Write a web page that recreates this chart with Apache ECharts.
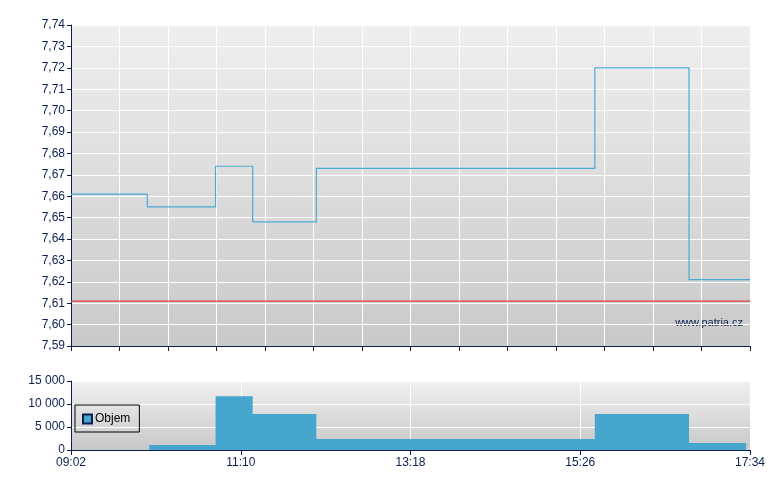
<!DOCTYPE html>
<html>
<head>
<meta charset="utf-8">
<script src="https://cdn.jsdelivr.net/npm/echarts@6/dist/echarts.min.js"></script>
<style>html,body{margin:0;padding:0;background:#fff}#c{width:780px;height:490px}</style>
</head>
<body>
<div id="c"></div>
<script>
// minutes after 09:02
var priceTimes = [0, 57.5, 109, 137, 185, 395, 466, 512];
var priceValues = [7.661, 7.655, 7.674, 7.648, 7.673, 7.72, 7.621, 7.621];
var refPrice = 7.611;
var volTimes = [0, 59, 109, 137, 185, 395, 466, 509, 512];
var volValues = [0, 1100, 11700, 7800, 2400, 7800, 1500, 0, 0];
var startMinute = 9 * 60 + 2;
var priceTicks = [7.59, 7.74, 0.01];
var volTicks = [0, 15000, 5000];

var navy = '#0b1f4f';
var font = 'Liberation Sans, Arial, sans-serif';
function bg(top, bottom) {
  return {type: 'linear', x: 0, y: 0, x2: 0, y2: 1, colorStops: [{offset: 0, color: top}, {offset: 1, color: bottom}]};
}
function fmtTime(v) {
  var m = Math.round(startMinute + v);
  var h = Math.floor(m / 60), mm = m % 60;
  return (h < 10 ? '0' : '') + h + ':' + (mm < 10 ? '0' : '') + mm;
}
function zipData(xs, ys) { return xs.map(function (x, i) { return [x, ys[i]]; }); }

var chart = echarts.init(document.getElementById('c'), null, {renderer: 'canvas'});
chart.setOption({
  animation: false,
  grid: [
    {left: 71, right: 30, top: 25, height: 321, show: true, borderWidth: 0, backgroundColor: bg('#efefef', '#c9c9c9')},
    {left: 71, right: 30, top: 381, height: 69, show: true, borderWidth: 0, backgroundColor: bg('#f0f0f0', '#c8c8c8')}
  ],
  legend: {
    data: ['Objem'], left: 75, top: 405, orient: 'vertical',
    borderColor: '#000', borderWidth: 1, borderRadius: 0, padding: [8, 9, 7, 7],
    itemWidth: 9, itemHeight: 9, itemGap: 4,
    textStyle: {color: '#000', fontFamily: font, fontSize: 12, padding: [0, 0, 0, -2]},
    icon: 'rect'
  },
  xAxis: [
    {type: 'value', gridIndex: 0, min: 0, max: 512, interval: 512 / 14,
     axisLine: {show: true, lineStyle: {color: navy, width: 1}},
     axisTick: {show: true, length: 5, lineStyle: {color: navy}},
     axisLabel: {show: false},
     splitLine: {show: true, lineStyle: {color: '#ffffff', width: 1}}},
    {type: 'value', gridIndex: 1, min: 0, max: 512, interval: 128,
     axisLine: {show: true, lineStyle: {color: navy, width: 1}},
     axisTick: {show: true, length: 5, lineStyle: {color: navy}},
     axisLabel: {show: true, color: navy, fontFamily: font, fontSize: 12, margin: 7, formatter: fmtTime},
     splitLine: {show: true, lineStyle: {color: '#ffffff', width: 1}}}
  ],
  yAxis: [
    {type: 'value', gridIndex: 0, min: priceTicks[0], max: priceTicks[1], interval: priceTicks[2],
     axisLine: {show: true, lineStyle: {color: navy, width: 1}},
     axisTick: {show: true, length: 4, lineStyle: {color: navy}},
     axisLabel: {color: navy, fontFamily: font, fontSize: 12, margin: 6,
       formatter: function (v) { return v.toFixed(2).replace('.', ','); }},
     splitLine: {show: true, lineStyle: {color: '#ffffff', width: 1}}},
    {type: 'value', gridIndex: 1, min: volTicks[0], max: volTicks[1], interval: volTicks[2],
     axisLine: {show: true, lineStyle: {color: navy, width: 1}},
     axisTick: {show: true, length: 4, lineStyle: {color: navy}},
     axisLabel: {color: navy, fontFamily: font, fontSize: 12, margin: 6,
       formatter: function (v) { return String(v).replace(/\B(?=(\d{3})+(?!\d))/g, ' '); }},
     splitLine: {show: true, lineStyle: {color: '#ffffff', width: 1}}}
  ],
  series: [
    {type: 'line', name: 'Ref', xAxisIndex: 0, yAxisIndex: 0, symbol: 'none', silent: true,
     data: [[0, refPrice], [512, refPrice]],
     lineStyle: {color: '#e23a3a', width: 1.3}, z: 3},
    {type: 'line', name: 'Cena', xAxisIndex: 0, yAxisIndex: 0, step: 'end', symbol: 'none',
     data: zipData(priceTimes, priceValues),
     lineStyle: {color: '#4aaad4', width: 1.2}, z: 4},
    {type: 'line', name: 'Objem', xAxisIndex: 1, yAxisIndex: 1, step: 'end', symbol: 'none',
     data: zipData(volTimes, volValues),
     itemStyle: {color: '#46a6ce', borderColor: '#0b1f4f', borderWidth: 1},
     lineStyle: {width: 0, color: '#46a6ce'},
     areaStyle: {color: '#46a6ce', opacity: 1}}
  ],
  graphic: [
    {type: 'text', right: 37, top: 317, style: {text: 'www.patria.cz', fill: navy, font: '11px ' + font}}
  ]
});
</script>
</body>
</html>
